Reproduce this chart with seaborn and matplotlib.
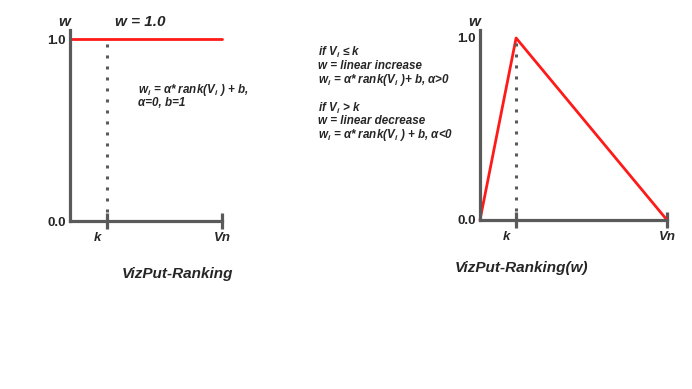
import matplotlib
matplotlib.use("Agg")
import matplotlib.pyplot as plt
import matplotlib.transforms as mtransforms
import numpy as np
import pandas as pd
import seaborn as sns

# weight curves, x runs from the origin (0) to Vn (1)
flat_rank = [0.0, 1.0]
flat_w = [1.0, 1.0]
flat_k = 0.245

tri_rank = [0.0, 0.193, 1.0]
tri_w = [0.0, 1.0, 0.0]
tri_k = 0.193

x_labels = ["k", "Vn"]
y_labels = ["0.0", "1.0"]

W, H = 692, 389
GRAY = "#5a5a5a"
RED = "#ff1a1a"

sns.set_style("white")
plt.rcParams["font.family"] = ["Liberation Sans", "DejaVu Sans"]
plt.rcParams["mathtext.fontset"] = "custom"
plt.rcParams["mathtext.it"] = "Liberation Sans:italic:bold"
plt.rcParams["mathtext.rm"] = "Liberation Sans:italic:bold"

fig = plt.figure(figsize=(W / 100, H / 100), dpi=100)


def px(x, y):
    return x / W, 1 - y / H


def make_axes(left, right, top, bottom, one_y):
    ax = fig.add_axes([left / W, (H - bottom) / H, (right - left) / W, (bottom - top) / H])
    ax.set_xlim(0, 1)
    ax.set_ylim(0, (bottom - top) / (bottom - one_y))
    ax.patch.set_alpha(0)
    for side in ("top", "right"):
        ax.spines[side].set_visible(False)
    for side in ("left", "bottom"):
        ax.spines[side].set_color(GRAY)
        ax.spines[side].set_linewidth(2.3)
    return ax


def finish_axes(ax, k):
    ax.set_xticks([k, 1.0], x_labels)
    ax.set_yticks([0.0, 1.0], y_labels)
    ax.tick_params(axis="x", bottom=True, direction="inout", length=12, width=2.3,
                   color=GRAY, pad=2, labelsize=9.5)
    ax.tick_params(axis="y", left=False, length=0, pad=3, labelsize=9.5)
    for lab in ax.get_xticklabels():
        lab.set_fontweight("bold")
        lab.set_fontstyle("italic")
    for lab in ax.get_yticklabels():
        lab.set_fontweight("bold")
    shift = mtransforms.ScaledTranslation(-7 / 72, 0, fig.dpi_scale_trans)
    kl = ax.get_xticklabels()[0]
    kl.set_transform(kl.get_transform() + shift)
    ax.set_xlabel("")
    ax.set_ylabel("")
    ax.plot([k, k], [0.05, 1.0], color=GRAY, lw=2.2, linestyle=(0, (1, 2.6)))


# left panel
ax1 = make_axes(70, 222, 30, 221, 39)
df1 = pd.DataFrame({"rank": flat_rank, "w": flat_w})
sns.lineplot(data=df1, x="rank", y="w", ax=ax1, color=RED, lw=2, clip_on=False)
finish_axes(ax1, flat_k)

# right panel
ax2 = make_axes(480, 667, 30, 220, 38)
df2 = pd.DataFrame({"rank": tri_rank, "w": tri_w})
sns.lineplot(data=df2, x="rank", y="w", ax=ax2, color=RED, lw=2, clip_on=False)
finish_axes(ax2, tri_k)

bi = dict(fontweight="bold", fontstyle="italic")

fig.text(*px(64, 22), "w", fontsize=11, ha="center", va="center", **bi)
fig.text(*px(115, 22), "w = 1.0", fontsize=11, ha="left", va="center", **bi)
fig.text(*px(474, 22), "w", fontsize=11, ha="center", va="center", **bi)

fig.text(*px(138, 90), "w$_i$ = α* rank(V$_i$ ) + b,", fontsize=8.4, ha="left", va="center", **bi)
fig.text(*px(138, 103), "α=0, b=1", fontsize=8.4, ha="left", va="center", **bi)

right_lines = [
    (52, "if V$_i$ ≤ k"),
    (66, "w = linear increase"),
    (80, "w$_i$ = α* rank(V$_i$ )+ b, α>0"),
    (108, "if V$_i$ > k"),
    (121, "w = linear decrease"),
    (135, "w$_i$ = α* rank(V$_i$ ) + b, α<0"),
]
for y, s in right_lines:
    fig.text(*px(318, y), s, fontsize=8.4, ha="left", va="center", **bi)

fig.text(*px(177, 274), "VizPut-Ranking", fontsize=11, ha="center", va="center", **bi)
fig.text(*px(522, 268), "VizPut-Ranking(w)", fontsize=11, ha="center", va="center", **bi)

fig.savefig("out.png", dpi=100)
